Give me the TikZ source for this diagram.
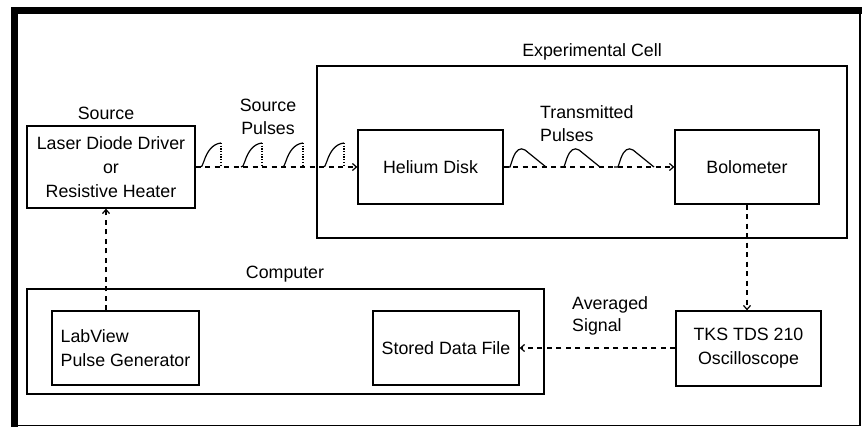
\documentclass[tikz,border=0pt]{standalone}
\usepackage{fontspec}
\setmainfont{Liberation Sans}
\usetikzlibrary{arrows.meta,calc}
\begin{document}
\begin{tikzpicture}[x=1pt,y=-1pt,
  box/.style={draw,line width=1.3pt,inner sep=0pt,align=center},
  lbl/.style={inner sep=0pt,align=center},
  flow/.style={line width=1.3pt,dash pattern=on 5pt off 4.5pt,-{Straight Barb[length=4pt,width=7pt,line width=1.2pt]}},
  pulse/.style={line width=1.2pt},
  drop/.style={line width=1.2pt,dash pattern=on 1.2pt off 1.5pt},
  every node/.style={font=\fontsize{17.8}{24}\selectfont}]
\useasboundingbox (0,0) rectangle (862,427);
% outer frame
\fill (11,7) rectangle (862,14.5);
\fill (11,7) rectangle (18,427);
\draw[line width=1.8pt] (18,425.5) -- (860,425.5) -- (860,14);
% groups
\node[box,minimum width=530pt,minimum height=172pt] (cell) at (582,152) {};
\node[lbl] (celllbl) at (592,52) {Experimental Cell};
\node[box,minimum width=517pt,minimum height=105pt] (comp) at (285.5,341.5) {};
\node[lbl] (complbl) at (285,274) {Computer};
% boxes
\node[box,minimum width=168pt,minimum height=82pt] (src) at (111,167) {Laser Diode Driver\\or\\Resistive Heater};
\node[lbl] (srclbl) at (106,113) {Source};
\node[box,minimum width=145pt,minimum height=74pt] (he) at (430.5,167) {Helium Disk};
\node[box,minimum width=144pt,minimum height=74pt] (bolo) at (747,167) {Bolometer};
\node[box,minimum width=147pt,minimum height=74pt,align=left] (lab) at (125.5,348) {LabView\\Pulse Generator};
\node[box,minimum width=146pt,minimum height=74pt] (store) at (446,348) {Stored Data File};
\node[box,minimum width=145pt,minimum height=75pt] (osc) at (748.5,348.5) {TKS TDS 210\\Oscilloscope};
% labels
\node[lbl,font=\fontsize{17.8}{23}\selectfont] (splbl) at (268,117) {Source\\Pulses};
\node[lbl,align=left,anchor=west,font=\fontsize{17.8}{23}\selectfont] (tplbl) at (540,124) {Transmitted\\Pulses};
\node[lbl,align=left,anchor=west,font=\fontsize{17.8}{22}\selectfont] (avlbl) at (572,316) {Averaged\\Signal};
% connectors
\draw[flow] (src.east) -- (he.west);
\draw[flow] (he.east) -- (bolo.west);
\draw[flow] (bolo.south) -- (osc.north -| bolo.south);
\draw[flow] (osc.west |- store.east) -- (store.east);
\draw[flow] (lab.north -| srclbl) -- (src.south -| srclbl);
% source pulses
\foreach \s in {200,241,282,323}{
  \draw[pulse] (\s,167) -- (\s+2,166) -- (\s+4,161) .. controls (\s+7,152) and (\s+12,144) .. (\s+21,143);
  \draw[drop] (\s+21,143) -- (\s+21,167);
}
% transmitted pulses
\foreach \s in {506,560,614}{
  \draw[pulse] (\s,167) -- (\s+4,167) -- (\s+7,158) .. controls (\s+10,150) and (\s+14,147) .. (\s+19,150) -- (\s+40,167);
}
\end{tikzpicture}
\end{document}
